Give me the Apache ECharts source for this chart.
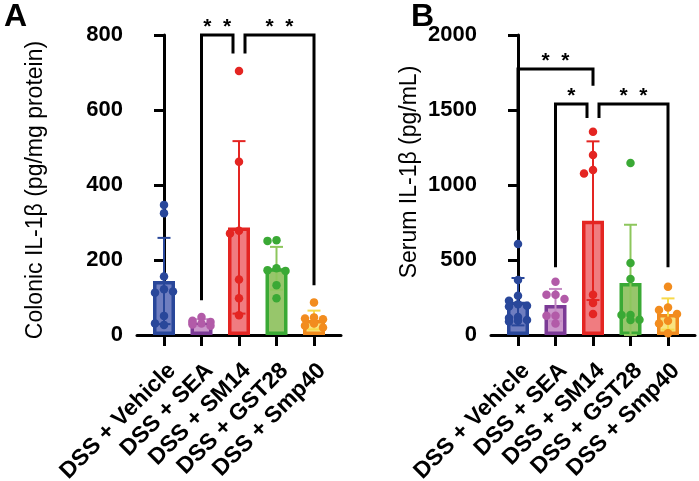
<!DOCTYPE html>
<html>
<head>
<meta charset="utf-8">
<script src="https://cdn.jsdelivr.net/npm/echarts@6/dist/echarts.min.js"></script>
<style>
  html, body { margin: 0; padding: 0; background: #fff; }
  #chart { width: 699px; height: 481px; }
</style>
</head>
<body>
<div id="chart"></div>
<script>
const groups = ['DSS + Vehicle', 'DSS + SEA', 'DSS + SM14', 'DSS + GST28', 'DSS + Smp40'];

// A: colonic IL-1β, pg/mg protein
const colonMean = [144, 33, 287, 178, 40];
const colonSD = [115, 9, 230, 57, 25];
const colonPoints = [
  [347, 325, 156, 122, 113, 116, 51, 27, 31],
  [48, 38, 35, 31, 33, 25, 28],
  [704, 462, 278, 271, 148, 98, 53],
  [253, 251, 178, 173, 171, 133, 98],
  [87, 47, 44, 42, 31, 25, 20]
];
const colonTicks = [0, 200, 400, 600, 800];

// B: serum IL-1β, pg/mL
const serumMean = [222, 200, 762, 347, 140];
const serumSD = [158, 107, 529, 388, 104];
const serumPoints = [
  [607, 367, 262, 229, 205, 195, 190, 120, 113, 100, 95, 90],
  [355, 269, 269, 240, 129, 129, 77],
  [1355, 1200, 1100, 1077, 269, 213, 140],
  [1147, 480, 373, 133, 133, 102, 100],
  [322, 184, 167, 140, 95, 77, 11]
];
const serumTicks = [0, 500, 1000, 1500, 2000];

// significance: from group, to group, bar height, drop at from, drop at to
const colonSig = [[1, 2, 800, 93, 751], [2, 4, 800, 751, 133]];
const colonStars = ['*  *', '*  *'];
const serumSig = [[0, 2, 1773, 695, 1662], [1, 2, 1540, 451, 1447], [2, 4, 1540, 1447, 451]];
const serumStars = ['*  *', '*', '*  *'];

const borderCol = ['#29479A', '#7B3A96', '#E42522', '#3AA935', '#F08A1D'];
const fillCol = ['#6F7EC0', '#CB97CB', '#F07C80', '#97C66B', '#F9E380'];
const errCol = ['#29479A', '#C58BC4', '#E42522', '#8DC65C', '#F7D94A'];
const dotCol = ['#29479A', '#B25BA8', '#E42522', '#3AA935', '#F28C1E'];

const FONT = 'Liberation Sans, Arial, sans-serif';
const XMIN = -0.72, XMAX = 4.72, GRID_W = 204, GRID_H = 300;
const bandPx = GRID_W / (XMAX - XMIN);

// push overlapping dots a little to the side, Prism-style
function swarm(vals, yMax) {
  const pxPerUnit = GRID_H / yMax;
  const placed = [];
  const steps = [0, -9, 9];
  return vals.map(v => {
    const py = v * pxPerUnit;
    let best = 0, bestDist = -1;
    for (const s of steps) {
      const d = placed.reduce((acc, p) => Math.min(acc, Math.hypot(p[0] - s, p[1] - py)), Infinity);
      if (d >= 7) { best = s; bestDist = d; break; }
      if (d > bestDist) { best = s; bestDist = d; }
    }
    placed.push([best, py]);
    return best / bandPx;
  });
}

function panelSeries(idx, means, sds, points, yMax, sig, stars, nudges) {
  const bars = {
    type: 'bar', xAxisIndex: idx, yAxisIndex: idx, barWidth: 22, z: 2,
    data: means.map((m, i) => ({
      value: [i, m],
      itemStyle: { color: fillCol[i], borderColor: borderCol[i], borderWidth: 3.5 }
    }))
  };
  const errs = {
    type: 'custom', xAxisIndex: idx, yAxisIndex: idx, z: 3,
    data: means.map((m, i) => [i, m, sds[i]]),
    renderItem: (params, api) => {
      const i = api.value(0), m = api.value(1), s = api.value(2);
      const top = api.coord([i, m + s]);
      const bot = api.coord([i, Math.max(0, m - s)]);
      const st = { stroke: errCol[params.dataIndex], lineWidth: 2 };
      return {
        type: 'group', children: [
          { type: 'line', shape: { x1: top[0], y1: top[1], x2: bot[0], y2: bot[1] }, style: st },
          { type: 'line', shape: { x1: top[0] - 6.5, y1: top[1], x2: top[0] + 6.5, y2: top[1] }, style: st },
          { type: 'line', shape: { x1: bot[0] - 6.5, y1: bot[1], x2: bot[0] + 6.5, y2: bot[1] }, style: st }
        ]
      };
    }
  };
  const dots = points.map((vals, g) => {
    const offs = swarm(vals, yMax);
    return {
      type: 'scatter', xAxisIndex: idx, yAxisIndex: idx, z: 4,
      symbolSize: 8.5,
      itemStyle: { color: dotCol[g], opacity: 1 },
      data: vals.map((v, k) => [g + offs[k], v])
    };
  });
  const brackets = {
    type: 'custom', xAxisIndex: idx, yAxisIndex: idx, z: 5, clip: false,
    data: sig,
    renderItem: (params, api) => {
      const n = nudges[params.dataIndex];
      const a = api.coord([api.value(0), api.value(2)]);
      const b = api.coord([api.value(1), api.value(2)]);
      const aLow = api.coord([api.value(0), api.value(3)]);
      const bLow = api.coord([api.value(1), api.value(4)]);
      const x1 = a[0] + n[0], x2 = b[0] + n[1];
      return {
        type: 'group', children: [
          {
            type: 'polyline',
            shape: { points: [[x1, aLow[1]], [x1, a[1]], [x2, b[1]], [x2, bLow[1]]] },
            style: { stroke: '#000', lineWidth: 3, fill: null }
          },
          {
            type: 'text',
            style: {
              text: stars[params.dataIndex], x: (x1 + x2) / 2, y: a[1] - 8,
              align: 'center', verticalAlign: 'middle',
              font: 'bold 21px ' + FONT, fill: '#000'
            }
          }
        ]
      };
    }
  };
  return [bars, errs, ...dots, brackets];
}

function xAxisOf(idx) {
  return {
    type: 'value', gridIndex: idx, min: XMIN, max: XMAX,
    splitLine: { show: false },
    axisLine: { show: true, onZero: false, lineStyle: { color: '#000', width: 3 } },
    axisTick: { show: true, customValues: [0, 1, 2, 3, 4], length: 11, lineStyle: { color: '#000', width: 3 } },
    axisLabel: {
      customValues: [0, 1, 2, 3, 4], rotate: 45, margin: 24,
      align: 'right', verticalAlign: 'top',
      formatter: v => groups[Math.round(v)],
      color: '#000', fontWeight: 'bold', fontSize: 23, fontFamily: FONT
    }
  };
}

function yAxisOf(idx, ticks) {
  return {
    type: 'value', gridIndex: idx, min: ticks[0], max: ticks[ticks.length - 1],
    interval: ticks[1] - ticks[0],
    splitLine: { show: false },
    axisLine: { show: true, lineStyle: { color: '#000', width: 3 } },
    axisTick: { show: true, length: 10, lineStyle: { color: '#000', width: 3 } },
    axisLabel: {
      margin: 14, color: '#000', fontWeight: 'bold', fontSize: 22, fontFamily: FONT,
      formatter: v => String(v)
    }
  };
}

const chart = echarts.init(document.getElementById('chart'), null, { renderer: 'canvas' });

chart.setOption({
  animation: false,
  backgroundColor: '#fff',
  grid: [
    { left: 137, top: 35, width: GRID_W, height: GRID_H, outerBoundsMode: 'none' },
    { left: 491, top: 35, width: GRID_W, height: GRID_H, outerBoundsMode: 'none' }
  ],
  xAxis: [xAxisOf(0), xAxisOf(1)],
  yAxis: [yAxisOf(0, colonTicks), yAxisOf(1, serumTicks)],
  graphic: [
    { type: 'text', left: 4, top: 1, style: { text: 'A', font: 'bold 32px ' + FONT, fill: '#000' } },
    { type: 'text', left: 411, top: 1, style: { text: 'B', font: 'bold 32px ' + FONT, fill: '#000' } },
    {
      type: 'text', x: 36, y: 190, rotation: Math.PI / 2,
      style: { text: 'Colonic IL-1β (pg/mg protein)', align: 'center', verticalAlign: 'middle', font: '23px ' + FONT, fill: '#000' }
    },
    {
      type: 'text', x: 410, y: 172, rotation: Math.PI / 2,
      style: { text: 'Serum IL-1β (pg/mL)', align: 'center', verticalAlign: 'middle', font: '23px ' + FONT, fill: '#000' }
    }
  ],
  series: [
    ...panelSeries(0, colonMean, colonSD, colonPoints, 800, colonSig, colonStars, [[0, -6], [6, 0]]),
    ...panelSeries(1, serumMean, serumSD, serumPoints, 2000, serumSig, serumStars, [[0, 0], [0, -6], [6, 0]])
  ]
});
</script>
</body>
</html>
